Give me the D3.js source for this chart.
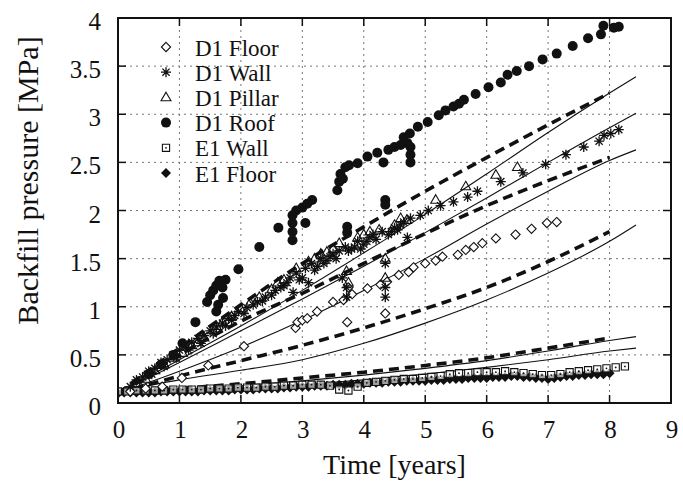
<!DOCTYPE html>
<html><head><meta charset="utf-8">
<script src="https://cdn.jsdelivr.net/npm/d3@7"></script>
<style>body{margin:0;background:#fff}svg{display:block}</style>
</head><body>
<svg id="c" width="683" height="487"></svg>
<script>
// ---------- axis ticks ----------
const xTicks = [0,1,2,3,4,5,6,7,8,9];
const yTicks = [0,0.5,1,1.5,2,2.5,3,3.5,4];
const yTickLabels = ["0","0.5","1","1.5","2","2.5","3","3.5","4"];

// ---------- model lines ----------
const dashT = [0,1,2,3,4,5,6,7,8];
const dash1 = [0.10,0.57,1.02,1.45,1.83,2.20,2.55,2.89,3.22];
const dash2 = [0.10,0.50,0.85,1.14,1.45,1.76,2.05,2.31,2.55];
const dash3 = [0.10,0.28,0.44,0.60,0.78,0.98,1.20,1.47,1.78];
const dash4 = [0.10,0.15,0.20,0.26,0.32,0.39,0.47,0.57,0.675];
const solidT = [0,1,2,3,4,5,6,7,8,8.43];
const solid1 = [0.10,0.45,0.80,1.17,1.56,1.96,2.38,2.81,3.22,3.39];
const solid2 = [0.10,0.42,0.75,1.08,1.42,1.77,2.13,2.50,2.86,3.01];
const solid3 = [0.10,0.33,0.58,0.86,1.17,1.50,1.86,2.20,2.52,2.63];
const solid4 = [0.12,0.24,0.34,0.45,0.62,0.83,1.07,1.35,1.68,1.85];
const solid5 = [0.10,0.14,0.18,0.23,0.29,0.36,0.44,0.54,0.65,0.69];
const solid6 = [0.10,0.12,0.15,0.19,0.24,0.30,0.37,0.45,0.54,0.57];

// ---------- measured series: [time, pressure] ----------
const d1Floor = [[0.2,0.12],[0.45,0.15],[0.72,0.17],[1.04,0.26],[1.47,0.39],[2.05,0.59],[2.89,0.78],[2.92,0.84],[3.0,0.86],[3.08,0.88],[3.24,0.95],[3.5,1.05],[3.67,1.07],[3.73,0.84],[3.75,1.2],[3.81,1.13],[4.06,1.19],[4.27,1.23],[4.35,0.93],[4.38,1.26],[4.57,1.33],[4.73,1.36],[4.81,1.41],[5.0,1.45],[5.17,1.48],[5.28,1.52],[5.53,1.54],[5.66,1.59],[5.79,1.62],[5.93,1.66],[6.15,1.71],[6.47,1.75],[6.73,1.81],[6.98,1.87],[7.14,1.88]];
const d1Wall = [[0.2,0.17],[0.3,0.24],[0.35,0.22],[0.4,0.27],[0.5,0.33],[0.55,0.3],[0.6,0.36],[0.7,0.42],[0.75,0.38],[0.8,0.45],[0.9,0.5],[0.95,0.47],[1.0,0.55],[1.1,0.58],[1.15,0.55],[1.2,0.63],[1.3,0.67],[1.35,0.62],[1.4,0.7],[1.5,0.75],[1.55,0.72],[1.6,0.79],[1.7,0.83],[1.75,0.8],[1.8,0.88],[1.85,0.86],[1.9,0.91],[1.96,0.95],[2.05,0.93],[2.1,0.99],[2.2,1.02],[2.27,1.05],[2.35,1.06],[2.4,1.1],[2.5,1.12],[2.56,1.17],[2.65,1.2],[2.7,1.22],[2.75,1.25],[2.85,1.15],[2.8,1.3],[2.9,1.35],[2.95,1.28],[3.0,1.3],[3.05,1.4],[3.1,1.25],[3.15,1.45],[3.2,1.38],[3.25,1.42],[3.3,1.5],[3.35,1.45],[3.4,1.48],[3.45,1.52],[3.5,1.55],[3.55,1.5],[3.6,1.58],[3.65,1.3],[3.72,1.2],[3.72,1.1],[3.7,1.62],[3.75,1.58],[3.8,1.6],[3.85,1.62],[3.9,1.68],[3.95,1.6],[4.0,1.65],[4.05,1.68],[4.1,1.72],[4.15,1.75],[4.2,1.7],[4.35,1.45],[4.35,1.2],[4.35,1.1],[4.3,1.78],[4.4,1.75],[4.45,1.78],[4.5,1.82],[4.55,1.8],[4.6,1.85],[4.65,1.88],[4.71,1.72],[4.76,1.92],[4.92,1.95],[5.05,2.0],[5.25,2.05],[5.46,2.09],[5.69,2.14],[5.85,2.2],[6.23,2.3],[6.59,2.39],[6.96,2.48],[7.29,2.58],[7.58,2.66],[7.83,2.72],[7.91,2.78],[8.02,2.8],[8.15,2.84]];
const d1Pillar = [[0.3,0.2],[0.45,0.25],[0.6,0.34],[0.75,0.4],[0.9,0.47],[1.05,0.52],[1.2,0.6],[1.3,0.63],[1.4,0.68],[1.6,0.8],[1.7,0.84],[1.85,0.9],[2.0,0.98],[2.15,1.04],[2.3,1.1],[2.5,1.18],[2.6,1.25],[2.7,1.28],[2.9,1.4],[3.1,1.47],[3.2,1.5],[3.3,1.55],[3.4,1.57],[3.5,1.6],[3.6,1.66],[3.72,1.37],[3.75,1.25],[3.9,1.72],[4.0,1.75],[4.1,1.78],[4.25,1.8],[4.35,1.3],[4.35,1.5],[4.5,1.85],[4.6,1.92],[4.7,1.9],[5.17,2.11],[5.66,2.25],[6.15,2.37],[6.5,2.45]];
const d1Roof = [[0.5,0.3],[0.7,0.4],[0.9,0.5],[1.05,0.62],[1.26,0.84],[1.45,1.05],[1.5,1.12],[1.55,1.17],[1.6,1.22],[1.65,1.27],[1.7,1.2],[1.75,1.28],[1.63,1.02],[1.71,1.09],[1.6,0.95],[1.96,1.39],[2.3,1.62],[2.61,1.82],[2.84,1.69],[2.84,1.78],[2.84,1.87],[2.84,1.95],[2.9,2.0],[3.05,1.87],[3.0,2.03],[3.08,2.07],[3.16,2.11],[3.57,2.21],[3.6,2.3],[3.62,2.38],[3.66,2.33],[3.7,2.45],[3.76,2.47],[3.73,1.83],[3.73,1.77],[3.9,2.49],[4.06,2.56],[4.22,2.6],[4.32,2.5],[4.35,2.11],[4.35,2.06],[4.4,2.63],[4.5,2.66],[4.6,2.68],[4.71,2.7],[4.76,2.5],[4.76,2.58],[4.76,2.66],[4.65,2.76],[4.75,2.8],[4.88,2.87],[5.04,2.92],[5.22,2.99],[5.33,3.04],[5.46,3.08],[5.55,3.11],[5.63,3.15],[5.82,3.21],[6.03,3.28],[6.23,3.33],[6.34,3.41],[6.49,3.45],[6.69,3.5],[6.91,3.57],[7.14,3.63],[7.4,3.71],[7.65,3.79],[7.86,3.83],[7.9,3.92],[8.07,3.9],[8.15,3.91]];
// E1 series sampled on a regular time grid (step given below)
const e1WallStep = 0.15;
const e1Wall = [0.12,0.12,0.13,0.13,0.13,0.13,0.14,0.14,0.14,0.14,0.15,0.15,0.15,0.16,0.16,0.16,0.17,0.17,0.18,0.18,0.19,0.19,0.19,0.18,0.14,0.13,0.17,0.21,0.22,0.23,0.24,0.25,0.25,0.26,0.27,0.28,0.30,0.31,0.31,0.32,0.32,0.32,0.33,0.32,0.31,0.30,0.29,0.29,0.30,0.32,0.33,0.34,0.35,0.36,0.37,0.38];
const e1FloorStep = 0.1;
const e1Floor = [0.10,0.11,0.11,0.11,0.11,0.11,0.11,0.12,0.12,0.12,
 0.12,0.12,0.12,0.12,0.13,0.13,0.13,0.13,0.13,0.14,
 0.14,0.14,0.14,0.15,0.15,0.15,0.15,0.16,0.16,0.17,
 0.17,0.17,0.18,0.18,0.18,0.19,0.19,0.19,0.20,0.20,
 0.20,0.21,0.21,0.21,0.22,0.22,0.22,0.23,0.23,0.23,
 0.23,0.24,0.24,0.24,0.25,0.25,0.25,0.26,0.26,0.26,
 0.26,0.27,0.27,0.27,0.28,0.28,0.27,0.27,0.26,0.26,
 0.25,0.26,0.27,0.28,0.28,0.29,0.29,0.30,0.30,0.30,0.31];

const legendNames = ["D1 Floor","D1 Wall","D1 Pillar","D1 Roof","E1 Wall","E1 Floor"];

// ---------- drawing ----------
const svg = d3.select("#c");
const L = 118, R = 671, T = 18, B = 403;
const x = d3.scaleLinear().domain([0,9]).range([L,R]);
const y = d3.scaleLinear().domain([0,4]).range([B,T]);
const font = "'Liberation Serif','Times New Roman',serif";
const ink = "#111";

// grid
const g = svg.append("g");
g.selectAll(".gx").data(xTicks.slice(1,-1)).join("line")
  .attr("x1",d=>x(d)).attr("x2",d=>x(d)).attr("y1",T).attr("y2",B)
  .attr("stroke","#777").attr("stroke-width",1).attr("stroke-dasharray","2,4");
g.selectAll(".gy").data(yTicks.slice(1,-1)).join("line")
  .attr("y1",d=>y(d)).attr("y2",d=>y(d)).attr("x1",L).attr("x2",R)
  .attr("stroke","#777").attr("stroke-width",1).attr("stroke-dasharray","2,4");

svg.append("clipPath").attr("id","clip").append("rect")
  .attr("x",L).attr("y",T).attr("width",R-L).attr("height",B-T);
const plot = svg.append("g").attr("clip-path","url(#clip)");

const line = d3.line().x(d=>x(d[0])).y(d=>y(d[1])).curve(d3.curveMonotoneX);
const zip = (ts, vs) => ts.map((t,i)=>[t, vs[i]]);

[solid1,solid2,solid3,solid4,solid5,solid6].forEach(s=>{
  plot.append("path").datum(zip(solidT,s)).attr("d",line)
    .attr("fill","none").attr("stroke",ink).attr("stroke-width",1.1);
});
[dash1,dash2,dash3,dash4].forEach(s=>{
  plot.append("path").datum(zip(dashT,s)).attr("d",line)
    .attr("fill","none").attr("stroke",ink).attr("stroke-width",3.6)
    .attr("stroke-dasharray","10,6");
});

// markers
const sym = {
  diamond: r=>`M0,${-r}L${r},0L0,${r}L${-r},0Z`,
  tri: r=>`M0,${-r}L${r*0.95},${r*0.65}L${-r*0.95},${r*0.65}Z`,
  star: r=>{const a=r*0.72;return `M${-r},0H${r}M0,${-r}V${r}M${-a},${-a}L${a},${a}M${-a},${a}L${a},${-a}`;},
  square: r=>`M${-r},${-r}H${r}V${r}H${-r}Z`,
};
function drawPts(data, kind){
  const sel = plot.append("g").selectAll("g").data(data).join("g")
    .attr("transform",d=>`translate(${x(d[0])},${y(d[1])})`);
  addMarker(sel, kind);
}
function addMarker(sel, kind){
  if(kind==="floor") sel.append("path").attr("d",sym.diamond(4.6)).attr("fill","#fff").attr("stroke",ink).attr("stroke-width",1.1);
  if(kind==="wall") sel.append("path").attr("d",sym.star(5)).attr("fill","none").attr("stroke",ink).attr("stroke-width",1.3);
  if(kind==="pillar") sel.append("path").attr("d",sym.tri(5.2)).attr("fill","none").attr("stroke",ink).attr("stroke-width",1.1);
  if(kind==="roof") sel.append("circle").attr("r",5).attr("fill",ink);
  if(kind==="e1wall"){ sel.append("path").attr("d",sym.square(3.6)).attr("fill","#fff").attr("fill-opacity",0.6).attr("stroke",ink).attr("stroke-width",1.1);
    sel.append("circle").attr("r",0.9).attr("fill",ink);}
  if(kind==="e1floor") sel.append("path").attr("d",sym.diamond(5)).attr("fill",ink);
}
drawPts(e1Floor.map((v,i)=>[i*e1FloorStep, v]), "e1floor");
drawPts(e1Wall.map((v,i)=>[i*e1WallStep, v]), "e1wall");
drawPts(d1Floor, "floor");
drawPts(d1Pillar, "pillar");
drawPts(d1Wall, "wall");
drawPts(d1Roof, "roof");

// frame + mirrored inward ticks
const tl = 8;
const ax = svg.append("g").attr("stroke",ink).attr("stroke-width",1.5);
xTicks.slice(1,-1).forEach(t=>{
  ax.append("line").attr("x1",x(t)).attr("x2",x(t)).attr("y1",B).attr("y2",B-tl);
  ax.append("line").attr("x1",x(t)).attr("x2",x(t)).attr("y1",T).attr("y2",T+tl);
});
yTicks.slice(1,-1).forEach(t=>{
  ax.append("line").attr("y1",y(t)).attr("y2",y(t)).attr("x1",L).attr("x2",L+tl);
  ax.append("line").attr("y1",y(t)).attr("y2",y(t)).attr("x1",R).attr("x2",R-tl);
});
svg.append("rect").attr("x",L).attr("y",T).attr("width",R-L).attr("height",B-T)
  .attr("fill","none").attr("stroke",ink).attr("stroke-width",2);

// tick labels
svg.append("g").selectAll("text").data(xTicks).join("text")
  .attr("x",d=>x(d)+1).attr("y",438).attr("text-anchor","middle")
  .attr("font-family",font).attr("font-size",25).attr("fill",ink).text(d=>d);
svg.append("g").selectAll("text").data(yTicks).join("text")
  .attr("x",101).attr("y",d=>y(d)+12).attr("text-anchor","end")
  .attr("font-family",font).attr("font-size",25).attr("fill",ink).text((d,i)=>yTickLabels[i]);

// axis titles
svg.append("text").attr("x",(L+R)/2).attr("y",474).attr("text-anchor","middle")
  .attr("font-family",font).attr("font-size",28).attr("fill",ink).text("Time [years]");
svg.append("text").attr("transform",`translate(38,${(T+B)/2-30}) rotate(-90)`)
  .attr("text-anchor","middle").attr("font-family",font).attr("font-size",30).attr("fill",ink)
  .text("Backfill pressure [MPa]");

// legend
const lg = svg.append("g");
const kinds = ["floor","wall","pillar","roof","e1wall","e1floor"];
legendNames.forEach((n,i)=>{
  const yy = 47 + i*25.2;
  const m = lg.append("g").attr("transform",`translate(166,${yy})`);
  addMarker(m, kinds[i]);
  lg.append("text").attr("x",195).attr("y",yy+8.5).attr("font-family",font)
    .attr("font-size",23).attr("fill",ink).text(n);
});
</script>
</body></html>
